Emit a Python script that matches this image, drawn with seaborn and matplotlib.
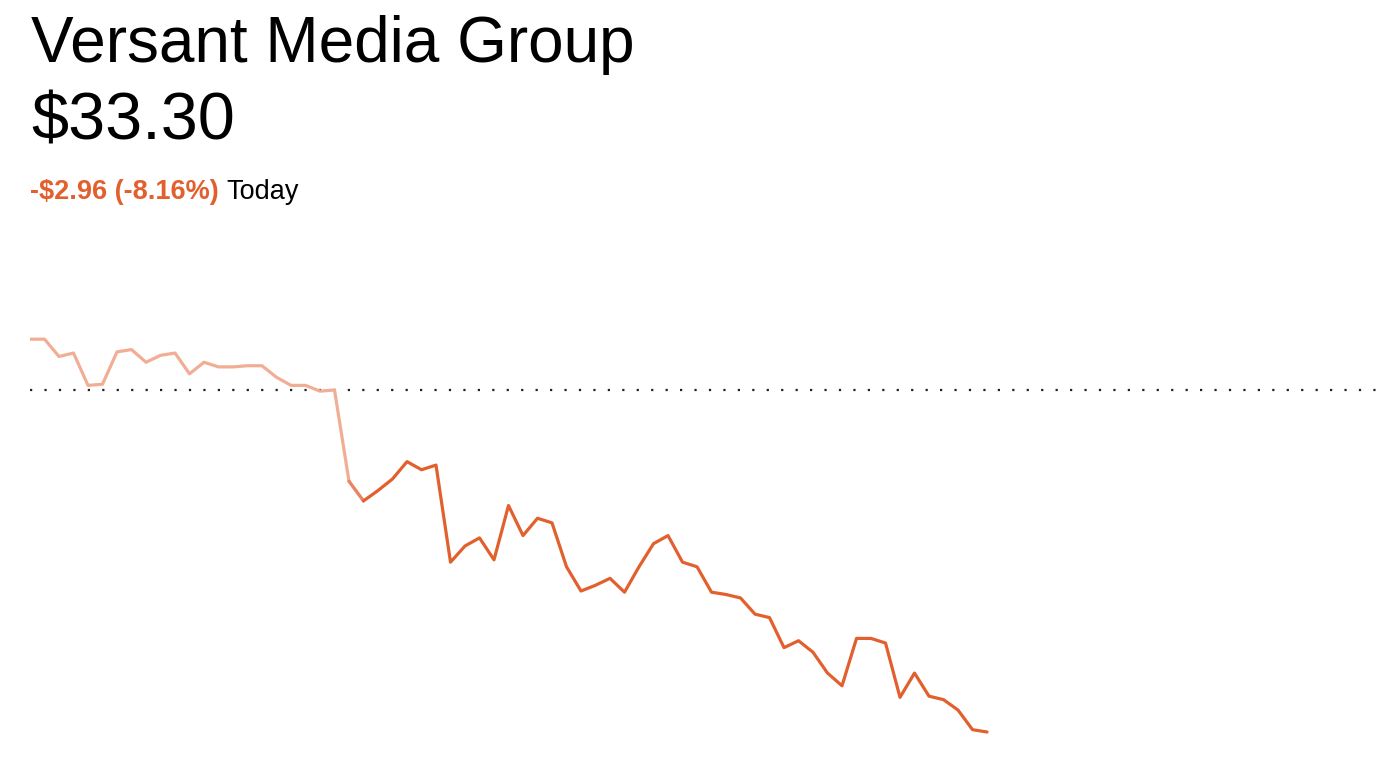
import matplotlib
matplotlib.use("Agg")
import matplotlib.pyplot as plt
import seaborn as sns
import numpy as np
import pandas as pd

title = "Versant Media Group"
price_label = "$33.30"
change_label = "-$2.96 (-8.16%)"
period_label = "Today"
prev_close = 36.26

prices = [36.70, 36.70, 36.55, 36.58, 36.30, 36.31, 36.59, 36.61, 36.50, 36.56,
          36.58, 36.40, 36.50, 36.46, 36.46, 36.47, 36.47, 36.37, 36.30, 36.30,
          36.25, 36.26, 35.47, 35.30, 35.39, 35.49, 35.64, 35.57, 35.61, 34.77,
          34.91, 34.98, 34.79, 35.26, 35.00, 35.15, 35.11, 34.73, 34.52, 34.57,
          34.63, 34.51, 34.73, 34.93, 35.00, 34.77, 34.73, 34.51, 34.49, 34.46,
          34.32, 34.29, 34.03, 34.09, 33.99, 33.81, 33.70, 34.11, 34.11, 34.07,
          33.60, 33.81, 33.61, 33.58, 33.49, 33.32, 33.30]
split_index = 22
total_slots = 93.24

df = pd.DataFrame({"t": np.arange(len(prices)), "price": prices})
pre = df.iloc[:split_index + 1]
blend = df.iloc[split_index:split_index + 2]
post = df.iloc[split_index + 1:]

sns.set_theme(style="white")
plt.rcParams['font.family'] = ['Liberation Sans', 'DejaVu Sans']

LIGHT = "#F2AE95"
DARK = "#E2602E"

W, H = 1382, 774
fig = plt.figure(figsize=(W / 100, H / 100), dpi=100)
fig.patch.set_facecolor("white")
ax = fig.add_axes([30 / W, 0, 1 - 30 / W, 1])
ax.set_facecolor("white")

px_per_dollar = 115.54
ytop = prev_close + 390 / px_per_dollar
ybot = prev_close - (H - 390) / px_per_dollar

ax.axhline(prev_close, color="#222222", lw=1.6, linestyle=(0, (1, 5.5)),
           dash_capstyle="butt", zorder=1)
sns.lineplot(data=pre, x="t", y="price", ax=ax, color=LIGHT, lw=2.3, zorder=2)
sns.lineplot(data=blend, x="t", y="price", ax=ax, color=LIGHT, lw=2.3, zorder=2)
sns.lineplot(data=blend, x="t", y="price", ax=ax, color=DARK, lw=2.3, alpha=0.5, zorder=3)
sns.lineplot(data=post, x="t", y="price", ax=ax, color=DARK, lw=2.3, zorder=3)
ax.set_xlim(0, total_slots)
ax.set_ylim(ybot, ytop)
ax.axis("off")

fig.text(31 / W, 1 - 62 / H, title, fontsize=46, color="black", va="baseline", ha="left")
fig.text(31 / W, 1 - 140 / H, price_label, fontsize=48, color="black", va="baseline", ha="left")
t1 = fig.text(30 / W, 1 - 199 / H, change_label, fontsize=19.5, fontweight="bold",
              color=DARK, va="baseline", ha="left")
fig.canvas.draw()
bb = t1.get_window_extent()
fig.text((bb.x1 + 8) / W, 1 - 199 / H, period_label, fontsize=19.5, color="black",
         va="baseline", ha="left")

fig.savefig("out.png", dpi=100, facecolor="white")
